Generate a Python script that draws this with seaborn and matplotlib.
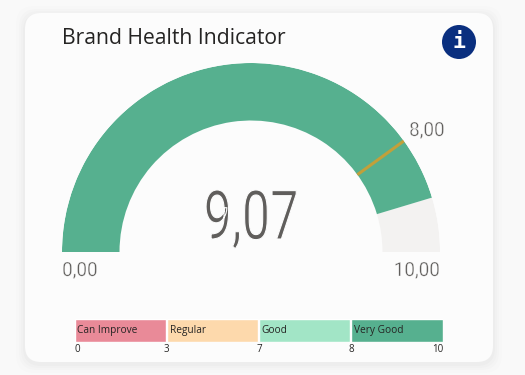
import numpy as np
import pandas as pd
import matplotlib
matplotlib.use("Agg")
import matplotlib.pyplot as plt
from matplotlib.patches import FancyBboxPatch, Circle
from matplotlib.patheffects import AbstractPathEffect
from matplotlib.transforms import Affine2D
import seaborn as sns

title_text = "Brand Health Indicator"
gauge_min = 0.0
gauge_max = 10.0
gauge_value = 9.07
gauge_target = 8.0
min_label = "0,00"
max_label = "10,00"
target_label = "8,00"
value_label = "9,07"

band_names = ["Can Improve", "Regular", "Good", "Very Good"]
band_sizes = [1, 1, 1, 1]
band_colors = ["#E98A98", "#FDD9AC", "#A2E5C6", "#56B08F"]
band_ticks = ["0", "3", "7", "8", "10"]

W, H = 525, 375
sns.set_theme(style="white")
plt.rcParams["font.family"] = ["Open Sans", "DejaVu Sans"]

fig = plt.figure(figsize=(W / 100, H / 100), dpi=100, facecolor="#F9F9F9")

def px_rect(x0, y0, x1, y1):
    return [x0 / W, 1 - y1 / H, (x1 - x0) / W, (y1 - y0) / H]

# squeezes and thins a text, no condensed light font is installed
class Squeeze(AbstractPathEffect):
    def __init__(self, cx, factor, thin):
        super().__init__()
        self.cx = cx
        self.factor = factor
        self.thin = thin

    def draw_path(self, renderer, gc, tpath, affine, rgbFace=None):
        squeeze = Affine2D().translate(-self.cx, 0).scale(self.factor, 1).translate(self.cx, 0)
        renderer.draw_path(gc, tpath, affine + squeeze, rgbFace)
        gc_thin = renderer.new_gc()
        gc_thin.copy_properties(gc)
        gc_thin.set_foreground("#FCFCFC")
        gc_thin.set_linewidth(self.thin)
        renderer.draw_path(gc_thin, tpath, affine + squeeze, None)
        gc_thin.restore()

# background layer in pixel coordinates
bg = fig.add_axes([0, 0, 1, 1])
bg.set_xlim(0, W)
bg.set_ylim(H, 0)
bg.axis("off")
for grow, alpha in [(9, 0.008), (6, 0.01), (4, 0.012), (2, 0.014)]:
    bg.add_patch(FancyBboxPatch((25 - grow, 13 - grow + 2), 468 + 2 * grow, 349 + 2 * grow,
                                boxstyle="round,pad=0,rounding_size=18", fc="black", ec="none", alpha=alpha))
bg.add_patch(FancyBboxPatch((25, 13), 468, 349, boxstyle="round,pad=0,rounding_size=16",
                            fc="#FCFCFC", ec="none"))

# gauge on a polar axes centred on the dial
cx, cy, r_out, r_in = 251, 252, 189, 131.5
gauge = fig.add_axes(px_rect(cx - r_out, cy - r_out, cx + r_out, cy + r_out), projection="polar")
gauge.patch.set_alpha(0)
gauge.set_ylim(0, r_out)
gauge.axis("off")

def to_angle(v):
    return np.pi * (1 - (v - gauge_min) / (gauge_max - gauge_min))

a_full = to_angle(gauge_min)
a_val = to_angle(gauge_value)
a_end = to_angle(gauge_max)
gauge.bar((a_end + a_val) / 2, r_out - r_in, width=a_val - a_end, bottom=r_in, color="#F3F2F1", linewidth=0)
gauge.bar((a_full + a_val) / 2, r_out - r_in, width=a_full - a_val, bottom=r_in, color="#56B08F", linewidth=0)
gauge.plot([to_angle(gauge_target)] * 2, [r_in, r_out], color="#C2A03A", lw=2.2, solid_capstyle="butt")

# texts
top = fig.add_axes([0, 0, 1, 1])
top.set_xlim(0, W)
top.set_ylim(H, 0)
top.axis("off")
top.patch.set_alpha(0)
top.text(62, 38, title_text, fontsize=15.2, color="#252423", ha="left", va="center")
num_font = dict(fontsize=14, color="#605E5C", ha="center", va="center", family="Roboto")
for x, y, label in [(80, 271, min_label), (417, 271, max_label), (427, 131, target_label)]:
    t = top.text(x, y, label, **num_font)
    t.set_path_effects([Squeeze(x, 0.97, 0.3)])
big = top.text(251, 220, value_label, fontsize=49, color="#605E5C", ha="center", va="center",
               family="Roboto")
big.set_path_effects([Squeeze(251, 0.74, 0.8)])
top.add_patch(Circle((459, 42), 17, fc="#0A2F7F", ec="none"))
top.text(459, 42, "i", fontsize=15.5, fontweight="bold", color="white", ha="center", va="center",
         family="DejaVu Sans Mono")

# legend strip
band_df = pd.DataFrame({"band": band_names, "size": band_sizes})
strip = fig.add_axes(px_rect(74.7, 319, 443, 341.5))
strip.patch.set_alpha(0)
sns.barplot(data=band_df, x="band", y="size", hue="band", palette=band_colors, legend=False,
            width=0.99, saturation=1, ax=strip)
strip.set_xlim(-0.5, 3.5)
strip.set_ylim(0, 1)
strip.set_xlabel("")
strip.set_ylabel("")
strip.set_yticks([])
sns.despine(ax=strip, left=True, bottom=True)
strip.set_xticks(np.arange(len(band_ticks)) - 0.5)
strip.set_xticklabels(band_ticks, fontsize=7, color="#252423")
strip.tick_params(axis="x", length=0, pad=1.5)
tick_objs = strip.get_xticklabels()
tick_objs[0].set_ha("left")
tick_objs[-1].set_ha("right")
for i, name in enumerate(band_names):
    strip.text(i - 0.47, 0.5, name, fontsize=7.3, color="#252423", ha="left", va="center")

fig.savefig("out.png", dpi=100, facecolor=fig.get_facecolor())
